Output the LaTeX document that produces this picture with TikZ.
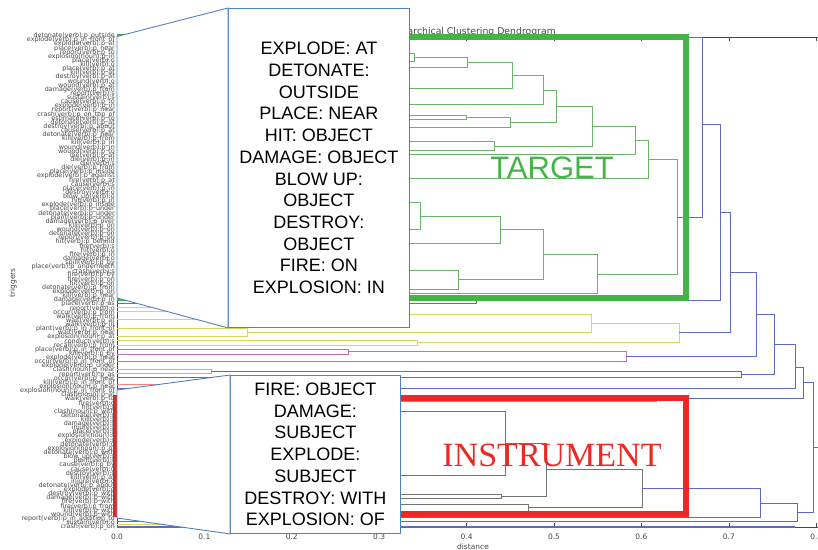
\documentclass[tikz,border=0pt]{standalone}
\usepackage{tikz}
\usepackage{fontspec}
\setmainfont{DejaVu Sans}
\newfontfamily\boxfont{Liberation Sans}
\newfontfamily\serfont{Liberation Serif}
\definecolor{dgreen}{RGB}{105,180,105}
\definecolor{dblue}{RGB}{95,105,195}
\definecolor{dyellow}{RGB}{215,215,90}
\definecolor{dpink}{RGB}{195,110,190}
\definecolor{dcyan}{RGB}{105,205,210}
\definecolor{dgray}{RGB}{115,115,115}
\definecolor{dolive}{RGB}{150,150,80}
\definecolor{dred}{RGB}{240,130,130}
\definecolor{boxgreen}{RGB}{68,180,72}
\definecolor{boxred}{RGB}{236,40,36}
\definecolor{calblue}{RGB}{79,129,189}
\definecolor{axgray}{RGB}{70,70,70}

\begin{document}
\begin{tikzpicture}[x=1pt,y=-1pt,
  gr/.style={draw=dgreen,line width=.9pt},
  bl/.style={draw=dblue,line width=.9pt},
  yl/.style={draw=dyellow,line width=.9pt},
  pk/.style={draw=dpink,line width=.9pt},
  cy/.style={draw=dcyan,line width=.9pt},
  gy/.style={draw=dgray,line width=.9pt},
  leaf/.style={anchor=east,inner sep=0pt,text=axgray,font=\fontsize{6.4}{7}\selectfont},
  tick/.style={inner sep=0pt,text=axgray,font=\fontsize{7.5}{8}\selectfont},
  callbox/.style={draw=calblue,fill=white,line width=.9pt,align=center,inner sep=0pt,anchor=north west,font=\boxfont\fontsize{18}{21.7}\selectfont},
  calline/.style={draw=calblue,line width=.9pt}]
\useasboundingbox (0,0) rectangle (818,549);
\node[anchor=base east,inner sep=0pt,text=axgray,font=\fontsize{9.3}{10}\selectfont] (title) at (556,34) {Hierarchical Clustering Dendrogram};
% frame and ticks
\draw[axgray,line width=.8pt] (818,37) -- (117,37) -- (117,527) -- (818,527);
\foreach \d in {0,...,8} {
  \draw[axgray,line width=.6pt] ({117+87.4*\d},527) -- ++(0,-4);
  \draw[axgray,line width=.6pt] ({117+87.4*\d},37) -- ++(0,4);
  \node[tick] (t\d) at ({117+87.4*\d},537) {0.\d};
}
\node[tick] (xlab) at (473,547) {distance};
\node[tick,rotate=90] (ylab) at (13,283) {triggers};
% the target cluster
\draw[gr] (117,53) -- (414,53) -- (414,61) -- (117,61);
\draw[gr] (414,57) -- (467,57) -- (467,67) -- (117,67);
\draw[gr] (467,62) -- (512,62) -- (512,88) -- (117,88);
\draw[gr] (512,75) -- (543,75) -- (543,104) -- (117,104);
\draw[gr] (117,115) -- (466,115) -- (466,119) -- (117,119);
\draw[gr] (466,117) -- (510,117) -- (510,127) -- (117,127);
\draw[gr] (543,90) -- (556,90) -- (556,122) -- (510,122);
\draw[gr] (117,141) -- (494,141) -- (494,150) -- (117,150);
\draw[gr] (556,106) -- (592,106) -- (592,146) -- (494,146);
\draw[gr] (592,126) -- (635,126) -- (635,154) -- (117,154);
\draw[gr] (635,140) -- (648,140) -- (648,178) -- (117,178);
\draw[gr] (117,202) -- (420,202) -- (420,229) -- (117,229);
\draw[gr] (420,216) -- (500,216) -- (500,243) -- (117,243);
\draw[gr] (117,270) -- (458,270) -- (458,289) -- (117,289);
\draw[gr] (500,229) -- (543,229) -- (543,279) -- (458,279);
\draw[gr] (543,254) -- (597,254) -- (597,293) -- (117,293);
\draw[gr] (648,159) -- (677,159) -- (677,274) -- (597,274);
% small clusters in between
\draw[gy] (117,298) -- (476,298) -- (476,303) -- (117,303);
\draw[yl] (117,307) -- (240,307) -- (240,311) -- (117,311);
\draw[yl] (240,309) -- (330,309) -- (330,319) -- (117,319);
\draw[yl] (330,314) -- (591,314) -- (591,332) -- (247,332);
\draw[yl] (117,328) -- (247,328) -- (247,336) -- (117,336);
\draw[yl] (591,323) -- (679,323) -- (679,342) -- (417,342);
\draw[yl] (117,340) -- (417,340) -- (417,345) -- (117,345);
\draw[pk] (117,349) -- (348,349) -- (348,354) -- (117,354);
\draw[pk] (348,351.5) -- (626,351.5) -- (626,361) -- (117,361);
\draw[cy] (117,369) -- (211,369) -- (211,373) -- (117,373);
\draw[draw=dred,line width=.9pt] (117,384) -- (230,384);
\draw[draw=dolive,line width=.9pt] (117,401) -- (657,401);
\draw[yl] (117,524) -- (300,524);
% the instrument cluster
\draw[gy] (117,411) -- (505,411) -- (505,475) -- (117,475);
\draw[gy] (117,494) -- (501,494) -- (501,498) -- (117,498);
\draw[gy] (505,443) -- (546,443) -- (546,496) -- (501,496);
\draw[gy] (117,504) -- (528,504) -- (528,511) -- (117,511);
\draw[gy] (546,469.5) -- (642,469.5) -- (642,507.5) -- (528,507.5);
% upper links
\draw[bl] (117,37) -- (702,37) -- (702,217) -- (677,217);
\draw[bl] (702,124) -- (720,124) -- (720,300) -- (476,300);
\draw[bl] (720,212) -- (730,212) -- (730,332) -- (679,332);
\draw[bl] (730,272) -- (756,272) -- (756,356) -- (626,356);
\draw[bl] (756,314) -- (774,314) -- (774,374) -- (741,374);
\draw[bl] (211,371) -- (741,371) -- (741,377) -- (117,377);
\draw[bl] (774,344) -- (795,344) -- (795,388) -- (117,388);
\draw[bl] (795,367) -- (803,367) -- (803,398) -- (657,398);
\draw[bl] (803,382) -- (813,382) -- (813,512) -- (797,512);
\draw[bl] (813,447) -- (818,447);
\draw[bl] (642,488) -- (760,488) -- (760,517) -- (117,517);
\draw[bl] (760,503) -- (797,503) -- (797,521) -- (117,521);
\draw[bl,line width=1.6pt] (117,527) -- (795,527);
% the two marked groups
\draw[boxgreen,line width=6pt] (120,37) rectangle (686,298);
\draw[boxred,line width=6pt] (116,398) rectangle (686,514);
\node[text=boxgreen,inner sep=0pt,font=\boxfont\fontsize{31}{31}\selectfont] (target) at (552,168) {TARGET};
\node[text=boxred,inner sep=0pt,font=\serfont\fontsize{34}{34}\selectfont] (instr) at (552,455.5) {INSTRUMENT};
% zoomed callouts
\coordinate (aTop) at (117,36.5);
\coordinate (aBot) at (117,298);
\node[callbox,minimum width=181pt,minimum height=319pt] (calTop) at (228,8)
  {EXPLODE: AT\\DETONATE:\\OUTSIDE\\PLACE: NEAR\\HIT: OBJECT\\DAMAGE: OBJECT\\BLOW UP:\\OBJECT\\DESTROY:\\OBJECT\\FIRE: ON\\EXPLOSION: IN};
\fill[white] (aTop) -- (calTop.north west) -- (calTop.south west) -- (aBot) -- cycle;
\draw[calline] (calTop.north west) -- (aTop) -- (aBot) -- (calTop.south west) -- cycle;
\coordinate (bTop) at (117,390);
\coordinate (bBot) at (117,518);
\node[callbox,minimum width=170pt,minimum height=158pt] (calBot) at (230,375)
  {FIRE: OBJECT\\DAMAGE:\\SUBJECT\\EXPLODE:\\SUBJECT\\DESTROY: WITH\\EXPLOSION: OF};
\fill[white] (bTop) -- (calBot.north west) -- (calBot.south west) -- (bBot) -- cycle;
\draw[calline] (calBot.north west) -- (bTop) -- (bBot) -- (calBot.south west) -- cycle;
% leaf labels
\foreach \lab [count=\i] in {detonate(verb):p\_outside, explode(verb):p\_in\_front\_of, explode(verb):p\_at, place(verb):p\_near, report(verb):p\_to, explosion(noun):p\_in, place(verb):o, kill(verb):o, place(verb):p\_at, kill(verb):p\_at, destroy(verb):p\_at, wound(verb):o, wound(verb):p\_at, damage(verb):p\_from, report(verb):s, sustain(verb):s, cause(verb):p\_to, explode(verb):p\_in, report(verb):p\_near, crash(verb):p\_on\_top\_of, estimate(verb):p\_to, detonate(verb):p\_at, destroy(verb):p\_about, cause(verb):p\_at, detonate(verb):p\_near, kill(verb):p\_from, kill(verb):p\_in, wound(verb):p\_in, wound(verb):p\_to, die(verb):p\_at, die(verb):p\_in, die(verb):s, die(verb):p\_from, place(verb):p\_inside, explode(verb):p\_against, fire(verb):p\_at, cause(verb):s, place(verb):p\_in, destroy(verb):o, blow\_up(verb):o, hit(verb):p\_in, explode(verb):p\_inside, place(verb):p\_under, detonate(verb):p\_under, plant(verb):p\_under, damage(verb):p\_over, kill(verb):p\_on, wound(verb):p\_on, detonate(verb):p\_on, report(verb):p\_on, hit(verb):p\_behind, fire(verb):s, hit(verb):o, fire(verb):p\_in, damage(verb):o, spill(verb):p\_by, place(verb):p\_underneath, crash(verb):s, fire(verb):p\_by, fire(verb):p\_on, hit(verb):p\_on, detonate(verb):p\_from, explode(verb):p\_on, kill(verb):p\_near, damage(verb):p\_in, place(verb):p\_as, report(verb):o, occur(verb):p\_from, walk(verb):p\_from, wait(verb):p\_at, walk(verb):p\_in, plant(verb):p\_in\_front\_of, wait(verb):p\_near, explosion(noun):p\_at, conduct(verb):s, recall(verb):p\_from, place(verb):p\_in\_front\_of, kill(verb):p\_by, explode(verb):p\_near, occur(verb):p\_in\_front\_of, explode(verb):p\_under, clash(noun):p\_near, report(verb):p\_as, occur(verb):p\_near, kill(verb):p\_in\_front\_of, explosion(noun):p\_near, explosion(noun):p\_in\_front\_of, clash(noun):p\_at, walk(verb):p\_to, fire(verb):o, hit(verb):s, clash(noun):p\_with, detonate(verb):s, kill(verb):s, damage(verb):s, injure(verb):s, place(verb):s, explosion(noun):s, explode(verb):s, detonate(verb):o, explosion(noun):p\_of, detonate(verb):p\_with, blow\_up(verb):s, plant(verb):s, cause(verb):p\_by, cause(verb):o, destroy(verb):s, kill(verb):p\_at, injure(verb):o, detonate(verb):p\_about, explode(verb):o, destroy(verb):p\_with, damage(verb):p\_with, fire(verb):p\_with, fire(verb):p\_from, kill(verb):p\_with, wound(verb):p\_with, report(verb):p\_in\_addition\_to, sustain(verb):o, crash(verb):p\_on}
  \node[leaf] (l\i) at (115,{36+(\i-1)*4.126}) {\lab};
\end{tikzpicture}
\end{document}
